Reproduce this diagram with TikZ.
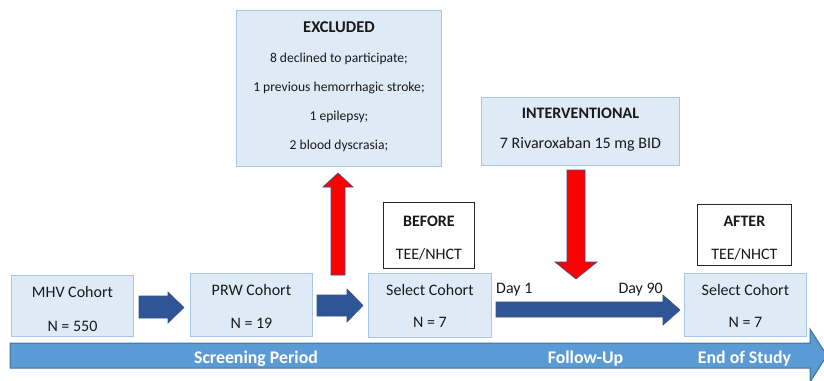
\documentclass[tikz,border=0pt]{standalone}
\usepackage{fontspec}
\setmainfont{Carlito}
\definecolor{boxfill}{HTML}{DEEBF7}
\definecolor{boxline}{HTML}{A8C6E6}
\definecolor{darkarrow}{HTML}{2F5597}
\definecolor{darkline}{HTML}{2F528F}
\definecolor{barfill}{HTML}{5B9BD5}
\definecolor{barline}{HTML}{41719C}
\begin{document}
\begin{tikzpicture}[x=1pt,y=-1pt]
\tikzset{
  lbox/.style={draw=boxline, fill=boxfill, line width=0.9pt, anchor=north west, inner sep=0pt},
  wbox/.style={draw=black!85, fill=white, line width=0.8pt, anchor=north west, inner sep=0pt},
  txt/.style={font=\fontsize{16}{19}\selectfont, inner sep=0pt, anchor=base, text=black!90},
  stxt/.style={font=\fontsize{13.6}{17}\selectfont, inner sep=0pt, anchor=base, text=black!90},
  bartxt/.style={font=\fontsize{17.8}{21}\selectfont\bfseries, inner sep=0pt, anchor=base, text=white},
  bluearrow/.style={fill=darkarrow, draw=darkline, line width=0.6pt},
  redarrow/.style={fill=red, draw=darkline, line width=0.6pt},
}
\useasboundingbox (0,0) rectangle (824,380);
% bottom bar arrow
\filldraw[fill=barfill, draw=barline, line width=1pt]
  (10,343) -- (810,343) -- (810,329) -- (827,355.5) -- (810,382) -- (810,368) -- (10,368) -- cycle;
\node[bartxt] (scr) at (256,363.5) {Screening Period};
\node[bartxt] (fol) at (585.5,363.5) {Follow-Up};
\node[bartxt] (end) at (744.5,363.5) {End of Study};

% boxes
\node[lbox, minimum width=205pt, minimum height=156pt] (exc) at (236,10) {};
\node[lbox, minimum width=198pt, minimum height=68pt] (int) at (481,97) {};
\node[wbox, minimum width=91pt, minimum height=66pt] (bef) at (383,202) {};
\node[wbox, minimum width=94pt, minimum height=61pt] (aft) at (697,204) {};
\node[lbox, minimum width=122pt, minimum height=61pt] (mhv) at (11,275) {};
\node[lbox, minimum width=122pt, minimum height=63pt] (prw) at (190,273) {};
\node[lbox, minimum width=123pt, minimum height=64pt] (sel1) at (368,273) {};
\node[lbox, minimum width=122pt, minimum height=63pt] (sel2) at (684,273) {};

% texts
\node[stxt, font=\fontsize{16.5}{19}\selectfont\bfseries] (excT) at (exc.center |- 0,32.5) {EXCLUDED};
\node[stxt] (exc1) at (exc.center |- 0,62.5) {8 declined to participate;};
\node[stxt] (exc2) at (exc.center |- 0,91.5) {1 previous hemorrhagic stroke;};
\node[stxt] (exc3) at (exc.center |- 0,120.5) {1 epilepsy;};
\node[stxt] (exc4) at (exc.center |- 0,149.5) {2 blood dyscrasia;};
\node[txt, font=\fontsize{16}{19}\selectfont\bfseries] (intT) at (int.center |- 0,118) {INTERVENTIONAL};
\node[txt] (int1) at (int.center |- 0,148) {7 Rivaroxaban 15 mg BID};
\node[txt, font=\fontsize{16}{19}\selectfont\bfseries] (befT) at (bef.center |- 0,226) {BEFORE};
\node[txt] (bef1) at (bef.center |- 0,259) {TEE/NHCT};
\node[txt, font=\fontsize{16}{19}\selectfont\bfseries] (aftT) at (aft.center |- 0,226) {AFTER};
\node[txt] (aft1) at (aft.center |- 0,259) {TEE/NHCT};
\node[txt] (mhv1) at (mhv.center |- 0,297) {MHV Cohort};
\node[txt] (mhv2) at (mhv.center |- 0,331) {N = 550};
\node[txt] (prw1) at (prw.center |- 0,295) {PRW Cohort};
\node[txt] (prw2) at (prw.center |- 0,328) {N = 19};
\node[txt] (sel1a) at (sel1.center |- 0,295) {Select Cohort};
\node[txt] (sel1b) at (sel1.center |- 0,327) {N = 7};
\node[txt] (sel2a) at (sel2.center |- 0,295) {Select Cohort};
\node[txt] (sel2b) at (sel2.center |- 0,327) {N = 7};
\node[txt, anchor=base west] (day1) at (496,293) {Day 1};
\node[txt, anchor=base east] (day90) at (663,293) {Day 90};

% blue arrows
\filldraw[bluearrow] (139,296) -- (168,296) -- (168,292) -- (184,307.5) -- (168,323) -- (168,318) -- (139,318) -- cycle;
\filldraw[bluearrow] (317,295) -- (347,295) -- (347,289) -- (363,305.5) -- (347,322) -- (347,316) -- (317,316) -- cycle;
\filldraw[bluearrow] (496,302) -- (663,302) -- (663,295) -- (680,310) -- (663,325) -- (663,317) -- (496,317) -- cycle;

% red arrows
\filldraw[redarrow] (331,275) -- (331,187) -- (323,187) -- (338,173) -- (353,187) -- (345,187) -- (345,275) -- cycle;
\filldraw[redarrow] (567,170) -- (567,262) -- (555,262) -- (576,279) -- (597,262) -- (585,262) -- (585,170) -- cycle;
\end{tikzpicture}
\end{document}
